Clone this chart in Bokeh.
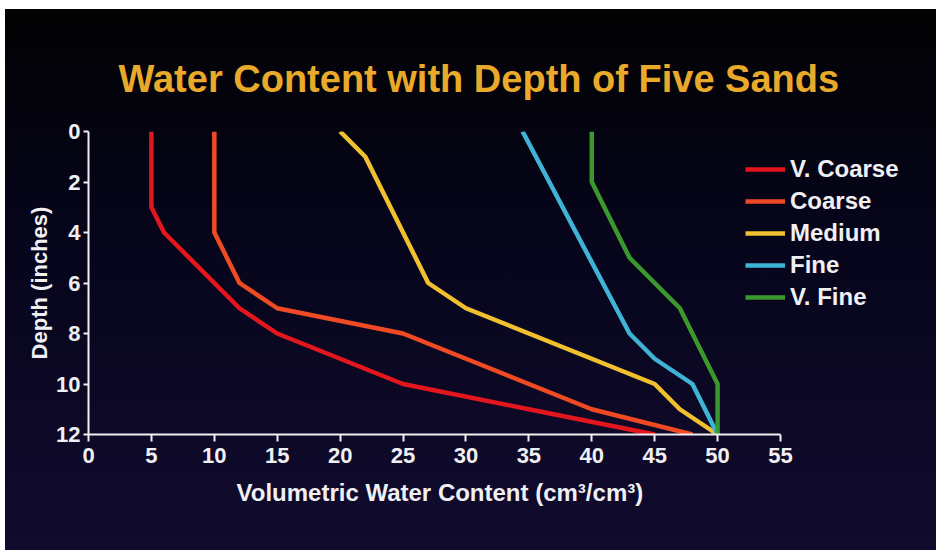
from bokeh.plotting import figure
from bokeh.models import Range1d, Legend, LegendItem, FixedTicker, Title
from bokeh.embed import file_html
from bokeh.resources import INLINE

# ---- data ----
series_names = ["V. Coarse", "Coarse", "Medium", "Fine", "V. Fine"]

vcoarse_depth = [0, 3, 4, 7, 8, 10, 11, 12]
vcoarse_water = [5, 5, 6, 12, 15, 25, 35, 45]

coarse_depth = [0, 4, 6, 7, 8, 11, 12]
coarse_water = [10, 10, 12, 15, 25, 40, 48]

medium_depth = [0, 1, 6, 7, 10, 11, 12]
medium_water = [20, 22, 27, 30, 45, 47, 50]

fine_depth = [0, 8, 9, 10, 12]
fine_water = [34.5, 43, 45, 48, 50]

vfine_depth = [0, 2, 5, 7, 10, 12]
vfine_water = [40, 40, 43, 47, 50, 50]

x_ticks = [0, 5, 10, 15, 20, 25, 30, 35, 40, 45, 50, 55]
y_ticks = [0, 2, 4, 6, 8, 10, 12]

title_text = "Water Content with Depth of Five Sands"
x_label = "Volumetric Water Content (cm\u00b3/cm\u00b3)"
y_label = "Depth (inches)"

colors = ["#e3161d", "#ef4a24", "#f0c02f", "#3fb3d6", "#3a992c"]

FONT = "Liberation Sans"
WHITE = "#f0f0f4"

# layout: figure sits 5px from the left / 9px from the top (white photo edge)
FIG_W, FIG_H = 931, 541
LEFT, TOP, BOTTOM = 83, 122, 116
AXIS_PX = 692                      # 0..55 spans 692 px
FRAME_PX = FIG_W - LEFT            # frame runs to the right edge (legend not clipped)
x_end = 55 * FRAME_PX / AXIS_PX

p = figure(width=FIG_W, height=FIG_H, output_backend="svg", toolbar_location=None,
           x_range=Range1d(0, x_end), y_range=Range1d(12, 0),
           min_border_left=LEFT, min_border_right=0,
           min_border_top=TOP, min_border_bottom=BOTTOM)

p.styles = {
    "background": "linear-gradient(to bottom, #020203 0%, #06051a 40%, #110b2e 100%)",
    "margin-top": "9px",
    "margin-left": "5px",
}
p.border_fill_alpha = 0
p.background_fill_alpha = 0
p.outline_line_color = None
p.grid.visible = False

p.title.text = title_text
p.title.text_font = FONT
p.title.text_font_style = "bold"
p.title.text_font_size = "38px"
p.title.text_color = "#e9a92b"
p.title.align = "left"
p.title.offset = 30
p.title.standoff = 63

series = [
    (vcoarse_water, vcoarse_depth),
    (coarse_water, coarse_depth),
    (medium_water, medium_depth),
    (fine_water, fine_depth),
    (vfine_water, vfine_depth),
]

items = []
for name, (xs, ys), c in zip(series_names, series, colors):
    r = p.line(xs, ys, line_color=c, line_width=4.5, line_join="round")
    items.append(LegendItem(label=name, renderers=[r]))

legend = Legend(items=items, location=(657, 123))
legend.background_fill_alpha = 0
legend.border_line_color = None
legend.label_text_color = WHITE
legend.label_text_font = FONT
legend.label_text_font_style = "bold"
legend.label_text_font_size = "24px"
legend.glyph_width = 40
legend.glyph_height = 20
legend.label_height = 20
legend.label_standoff = 5
legend.spacing = 4
legend.padding = 0
legend.margin = 0
p.add_layout(legend)

p.xaxis.ticker = FixedTicker(ticks=x_ticks)
p.yaxis.ticker = FixedTicker(ticks=y_ticks)
p.xaxis.bounds = (0, 55)
p.yaxis.axis_label = y_label

for ax in (p.xaxis, p.yaxis):
    ax.axis_line_color = WHITE
    ax.axis_line_width = 2
    ax.major_tick_line_color = WHITE
    ax.major_tick_line_width = 2
    ax.major_tick_in = 0
    ax.minor_tick_line_color = None
    ax.major_label_text_color = WHITE
    ax.major_label_text_font = FONT
    ax.major_label_text_font_style = "bold"
    ax.major_label_text_font_size = "22px"
    ax.axis_label_text_color = WHITE
    ax.axis_label_text_font = FONT
    ax.axis_label_text_font_style = "bold"

p.xaxis.major_tick_out = 7
p.xaxis.major_label_standoff = 6

p.yaxis.major_tick_out = 5
p.yaxis.major_label_standoff = 3
p.yaxis.axis_label_text_font_size = "22px"
p.yaxis.axis_label_standoff = 1

# x-axis title placed under the 0..55 axis (not centred on the wider frame)
xt = Title(text=x_label, align="left", offset=148, vertical_align="top",
           standoff=26, text_font=FONT, text_font_style="bold",
           text_font_size="24px", text_color=WHITE)
p.add_layout(xt, "below")

open("out.html", "w").write(file_html(p, INLINE))
